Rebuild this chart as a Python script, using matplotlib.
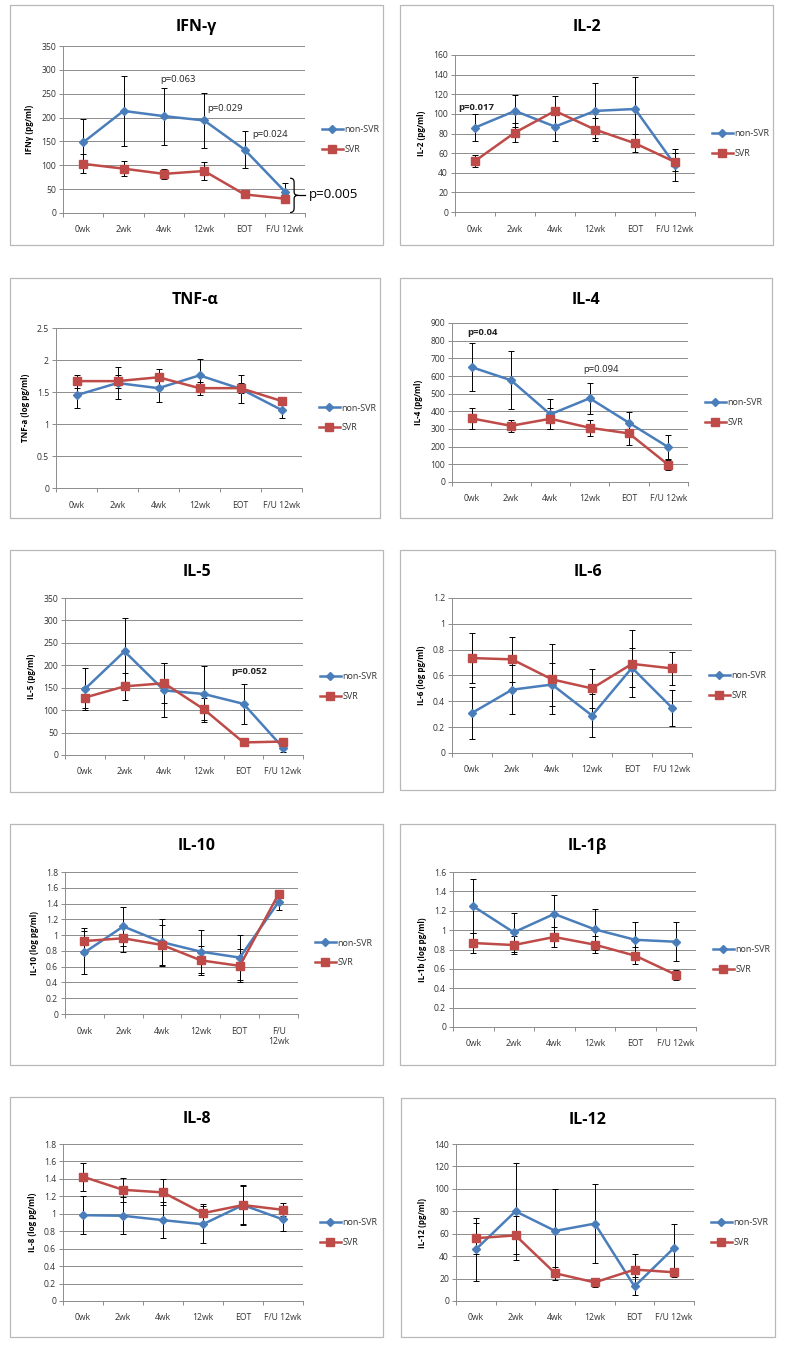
import numpy as np
import matplotlib
matplotlib.use("Agg")
import matplotlib.pyplot as plt
from matplotlib.patches import Rectangle, PathPatch
from matplotlib.path import Path
from matplotlib.ticker import FuncFormatter, FixedLocator

plt.rcParams['font.family'] = ['Open Sans', 'DejaVu Sans']

weeks = ["0wk", "2wk", "4wk", "12wk", "EOT", "F/U 12wk"]
weeks_wrap = ["0wk", "2wk", "4wk", "12wk", "EOT", "F/U\n12wk"]

# values (mean and error bar half-length)
ifn_non = [148, 214, 203, 194, 133, 45]
ifn_non_err = [48, 74, 60, 57, 38, 18]
ifn_svr = [103, 93, 82, 88, 39, 30]
ifn_svr_err = [20, 16, 11, 18, 5, 9]

il2_non = [86, 103, 87, 103, 105, 48]
il2_non_err = [14, 16, 15, 28, 33, 16]
il2_svr = [52, 81, 103, 84, 70, 51]
il2_svr_err = [6, 10, 15, 12, 9, 9]

tnf_non = [1.45, 1.64, 1.56, 1.76, 1.55, 1.22]
tnf_non_err = [0.2, 0.25, 0.21, 0.26, 0.22, 0.12]
tnf_svr = [1.67, 1.67, 1.73, 1.56, 1.56, 1.36]
tnf_svr_err = [0.1, 0.1, 0.13, 0.1, 0.08, 0.05]

il4_non = [650, 576, 383, 474, 335, 197]
il4_non_err = [135, 163, 85, 89, 60, 68]
il4_svr = [360, 318, 358, 307, 275, 97]
il4_svr_err = [61, 35, 60, 45, 67, 30]

il5_non = [147, 231, 144, 136, 114, 16]
il5_non_err = [46, 74, 60, 62, 45, 10]
il5_svr = [128, 153, 160, 102, 28, 30]
il5_svr_err = [24, 30, 45, 25, 6, 5]

il6_non = [0.31, 0.49, 0.53, 0.29, 0.66, 0.35]
il6_non_err = [0.2, 0.19, 0.17, 0.165, 0.15, 0.14]
il6_svr = [0.735, 0.725, 0.57, 0.50, 0.69, 0.655]
il6_svr_err = [0.195, 0.175, 0.27, 0.15, 0.26, 0.13]

il10_non = [0.78, 1.11, 0.91, 0.79, 0.715, 1.42]
il10_non_err = [0.27, 0.25, 0.3, 0.27, 0.29, 0.1]
il10_svr = [0.925, 0.96, 0.875, 0.68, 0.61, 1.52]
il10_svr_err = [0.17, 0.17, 0.25, 0.18, 0.21, 0.04]

il1b_non = [1.246, 0.977, 1.167, 1.008, 0.9, 0.88]
il1b_non_err = [0.28, 0.2, 0.2, 0.21, 0.18, 0.2]
il1b_svr = [0.867, 0.846, 0.929, 0.85, 0.736, 0.54]
il1b_svr_err = [0.1, 0.09, 0.1, 0.09, 0.09, 0.05]

il8_non = [0.984, 0.977, 0.927, 0.88, 1.1, 0.935]
il8_non_err = [0.22, 0.21, 0.21, 0.21, 0.23, 0.13]
il8_svr = [1.425, 1.275, 1.245, 1.007, 1.1, 1.045]
il8_svr_err = [0.16, 0.14, 0.15, 0.11, 0.22, 0.075]

il12_non = [46, 80, 62.5, 69, 13, 47.5]
il12_non_err = [28, 43, 37, 35, 8, 21]
il12_svr = [56, 58.5, 24.7, 16.6, 28, 25.6]
il12_svr_err = [14, 17, 6, 4, 14, 4]

# title, ylabel, series, y max, y step, x labels, p-value notes (x, y, text, bold)
panels = [
    ("IFN-γ", "IFNγ (pg/ml)", (ifn_non, ifn_non_err, ifn_svr, ifn_svr_err), 350, 50, weeks,
     [(1.9, 279, "p=0.063", False), (3.08, 220, "p=0.029", False), (4.2, 164, "p=0.024", False)]),
    ("IL-2", "IL-2 (pg/ml)", (il2_non, il2_non_err, il2_svr, il2_svr_err), 160, 20, weeks,
     [(-0.42, 107, "p=0.017", True)]),
    ("TNF-α", "TNF-a (log pg/ml)", (tnf_non, tnf_non_err, tnf_svr, tnf_svr_err), 2.5, 0.5, weeks, []),
    ("IL-4", "IL-4 (pg/ml)", (il4_non, il4_non_err, il4_svr, il4_svr_err), 900, 100, weeks,
     [(-0.12, 849, "p=0.04", True), (2.83, 637, "p=0.094", False)]),
    ("IL-5", "IL-5 (pg/ml)", (il5_non, il5_non_err, il5_svr, il5_svr_err), 350, 50, weeks,
     [(3.7, 186, "p=0.052", True)]),
    ("IL-6", "IL-6 (log pg/ml)", (il6_non, il6_non_err, il6_svr, il6_svr_err), 1.2, 0.2, weeks, []),
    ("IL-10", "IL-10 (log pg/ml)", (il10_non, il10_non_err, il10_svr, il10_svr_err), 1.8, 0.2, weeks_wrap, []),
    ("IL-1β", "IL-1b (log pg/ml)", (il1b_non, il1b_non_err, il1b_svr, il1b_svr_err), 1.6, 0.2, weeks, []),
    ("IL-8", "IL-8 (log pg/ml)", (il8_non, il8_non_err, il8_svr, il8_svr_err), 1.8, 0.2, weeks, []),
    ("IL-12", "IL-12 (pg/ml)", (il12_non, il12_non_err, il12_svr, il12_svr_err), 140, 20, weeks, []),
]

# layout in pixels: panel box (l, t, r, b) and plot area (x0, x1, top, bottom)
boxes = [(10, 5, 383, 245), (400, 5, 773, 245),
         (10, 278, 380, 518), (400, 278, 772, 518),
         (10, 550, 383, 792), (400, 550, 775, 790),
         (10, 824, 383, 1065), (400, 824, 775, 1065),
         (10, 1097, 383, 1337), (401, 1098, 775, 1337)]
areas = [(63, 305, 46, 213), (455, 695, 55, 212),
         (56, 302, 328, 488), (452, 688, 323, 482),
         (65, 303, 598, 755), (452, 692, 598, 753),
         (65, 298, 872, 1014), (453, 696, 872, 1027),
         (63, 303, 1144, 1301), (456, 694, 1144, 1301)]

W, H = 787, 1347
BLUE = "#4A7EBB"
RED = "#BE4B48"
GRID = "#8C8C8C"
TXT = "#333333"

fig = plt.figure(figsize=(W / 100, H / 100), dpi=100)


def brace(ax, x, y0, y1, w):
    ym = (y0 + y1) / 2
    h = y1 - y0
    xm = x + w / 2
    verts = [(x, y1), (xm, y1), (xm, y1 - 0.12 * h), (xm, ym + 0.1 * h),
             (xm, ym), (x + w, ym), (xm, ym), (xm, ym - 0.1 * h),
             (xm, y0 + 0.12 * h), (xm, y0), (x, y0)]
    codes = [Path.MOVETO, Path.CURVE3, Path.CURVE3, Path.LINETO,
             Path.CURVE3, Path.CURVE3, Path.CURVE3, Path.CURVE3,
             Path.LINETO, Path.CURVE3, Path.CURVE3]
    ax.add_patch(PathPatch(Path(verts, codes), fill=False, lw=0.9,
                           color="black", clip_on=False))
    ax.plot([x + w, x + w * 1.9], [ym, ym], color="black", lw=0.9, clip_on=False)


for i, (title, ylab, series, ymax, ystep, xlabels, notes) in enumerate(panels):
    bl, bt, br, bb = boxes[i]
    fig.patches.append(Rectangle((bl / W, 1 - bb / H), (br - bl) / W, (bb - bt) / H,
                                 transform=fig.transFigure, fill=False,
                                 edgecolor="#B8B8B8", lw=0.9))
    fig.text((bl + br) / 2 / W, 1 - (bt + 22) / H, title, ha="center", va="center",
             fontsize=11.5, fontweight="bold", color="black")

    x0, x1, yt, yb = areas[i]
    ax = fig.add_axes([x0 / W, 1 - yb / H, (x1 - x0) / W, (yb - yt) / H])
    non, non_err, svr, svr_err = series
    x = np.arange(len(weeks))

    ax.errorbar(x, non, yerr=non_err, fmt="none", ecolor="black", elinewidth=0.7,
                capsize=2, capthick=0.7, zorder=2)
    ax.errorbar(x, svr, yerr=svr_err, fmt="none", ecolor="black", elinewidth=0.7,
                capsize=2, capthick=0.7, zorder=2)
    ax.plot(x, non, color=BLUE, lw=1.8, marker="D", ms=3.6, label="non-SVR", zorder=3)
    ax.plot(x, svr, color=RED, lw=1.8, marker="s", ms=6, label="SVR", zorder=3)

    ax.set_xlim(-0.5, len(weeks) - 0.5)
    ax.set_ylim(0, ymax)
    yt_vals = np.round(np.arange(0, ymax + ystep / 2, ystep), 3)
    ax.set_yticks(yt_vals)
    ax.yaxis.set_major_formatter(FuncFormatter(lambda v, p: f"{v:g}"))
    ax.set_xticks(x)
    ax.set_xticklabels(xlabels)
    ax.xaxis.set_minor_locator(FixedLocator(np.arange(-0.5, len(weeks), 1.0)))
    ax.tick_params(axis="x", which="major", length=0, pad=9, labelsize=6.2, colors=TXT)
    ax.tick_params(axis="x", which="minor", length=3, direction="out", color=GRID, width=0.7)
    ax.tick_params(axis="y", length=3, direction="out", color=GRID, width=0.7,
                   labelsize=6.2, colors=TXT, pad=2)
    ax.grid(axis="y", color=GRID, lw=0.7)
    ax.set_axisbelow(True)
    for s in ("top", "right"):
        ax.spines[s].set_visible(False)
    for s in ("left", "bottom"):
        ax.spines[s].set_color(GRID)
        ax.spines[s].set_linewidth(0.7)
    ax.set_ylabel(ylab, fontsize=5.8, fontweight="bold", color="black", labelpad=5)

    for nx, ny, txt, bold in notes:
        ax.text(nx, ny, txt, fontsize=6.8, fontweight="bold" if bold else "normal",
                color="#222222", ha="left", va="center")

    ym_px = (yt + yb) / 2 + 10
    ax.legend(loc="center left", bbox_to_anchor=((x1 + 12) / W, 1 - ym_px / H),
              bbox_transform=fig.transFigure, frameon=False, fontsize=6.5,
              handlelength=2.4, handletextpad=0.1, labelspacing=1.2, borderpad=0,
              labelcolor=TXT)

    if i == 0:
        brace(ax, 5.13, 1, 73, 0.2)
        ax.text(5.6, 38, "p=0.005", fontsize=9.5, color="black", ha="left", va="center")

fig.savefig("out.png", dpi=100)
